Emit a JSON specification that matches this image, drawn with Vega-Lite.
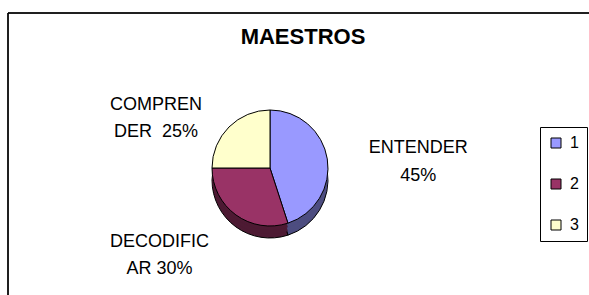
{
  "$schema": "https://vega.github.io/schema/vega-lite/v6.json",
  "width": 600,
  "height": 300,
  "autosize": {"type": "none"},
  "padding": {"left": 8, "top": 13, "right": 0, "bottom": 0},
  "background": "white",
  "config": {
    "view": {"stroke": "black", "strokeWidth": 1},
    "font": "Liberation Sans",
    "legend": {
      "orient": "none",
      "legendX": 532,
      "legendY": 114,
      "strokeColor": "black",
      "strokeWidth": 1,
      "fillColor": "white",
      "padding": 8,
      "rowPadding": 25,
      "symbolType": "square",
      "symbolSize": 100,
      "symbolStrokeColor": "black",
      "symbolStrokeWidth": 1,
      "labelFontSize": 16,
      "labelFont": "Liberation Sans",
      "labelColor": "black",
      "labelOffset": 6,
      "title": null
    }
  },
  "title": {
    "text": "MAESTROS",
    "fontSize": 22,
    "fontWeight": "bold",
    "font": "Liberation Sans",
    "color": "black",
    "anchor": "middle",
    "offset": -53,
    "baseline": "alphabetic",
    "dx": -5
  },
  "data": {
    "values": [
      {"cat": "1", "value": 45, "label": "ENTENDER\n45%"},
      {"cat": "2", "value": 30, "label": "DECODIFIC\nAR 30%"},
      {"cat": "3", "value": 25, "label": "COMPREN\nDER \u00a025%"}
    ]
  },
  "layer": [
    {
      "mark": {"type": "rect", "fill": null, "stroke": "black", "strokeWidth": 1},
      "encoding": {}
    },
    {
      "mark": {"type": "arc", "radius": 58, "x": 262, "y": 167, "stroke": "black", "strokeWidth": 1},
      "encoding": {
        "theta": {"field": "value", "type": "quantitative", "stack": true},
        "order": {"field": "cat", "type": "ordinal"},
        "color": {"field": "cat", "type": "nominal", "scale": {"domain": ["1", "2", "3"], "range": ["#4D4D80", "#4D1A33", "#80805F"]}, "legend": null}
      }
    },
    {
      "mark": {"type": "arc", "radius": 58, "x": 262, "y": 163},
      "encoding": {
        "theta": {"field": "value", "type": "quantitative", "stack": true},
        "order": {"field": "cat", "type": "ordinal"},
        "color": {"field": "cat", "type": "nominal", "scale": {"domain": ["1", "2", "3"], "range": ["#4D4D80", "#4D1A33", "#80805F"]}, "legend": null}
      }
    },
    {
      "mark": {"type": "arc", "radius": 58, "x": 262, "y": 159},
      "encoding": {
        "theta": {"field": "value", "type": "quantitative", "stack": true},
        "order": {"field": "cat", "type": "ordinal"},
        "color": {"field": "cat", "type": "nominal", "scale": {"domain": ["1", "2", "3"], "range": ["#4D4D80", "#4D1A33", "#80805F"]}, "legend": null}
      }
    },
    {
      "mark": {"type": "arc", "radius": 58, "x": 262, "y": 155, "stroke": "black", "strokeWidth": 1},
      "encoding": {
        "theta": {"field": "value", "type": "quantitative", "stack": true},
        "order": {"field": "cat", "type": "ordinal"},
        "color": {"field": "cat", "type": "nominal", "scale": {"domain": ["1", "2", "3"], "range": ["#9999FF", "#993366", "#FFFFCC"]}}
      }
    },
    {
      "mark": {"type": "text", "x": 262, "y": 155, "radius": 145, "dx": 5, "dy": 3, "align": "center", "baseline": "middle", "lineBreak": "\n", "lineHeight": 28, "fontSize": 18, "font": "Liberation Sans", "color": "black"},
      "encoding": {
        "theta": {"field": "value", "type": "quantitative", "stack": true},
        "order": {"field": "cat", "type": "ordinal"},
        "text": {"condition": {"test": "datum.cat === '1'", "field": "label"}, "value": ""}
      }
    },
    {
      "mark": {"type": "text", "x": 262, "y": 155, "radius": 140, "dx": -15, "dy": 36, "align": "center", "baseline": "middle", "lineBreak": "\n", "lineHeight": 27, "fontSize": 18, "font": "Liberation Sans", "color": "black"},
      "encoding": {
        "theta": {"field": "value", "type": "quantitative", "stack": true},
        "order": {"field": "cat", "type": "ordinal"},
        "text": {"condition": {"test": "datum.cat === '3'", "field": "label"}, "value": ""}
      }
    },
    {
      "mark": {"type": "text", "x": 262, "y": 155, "radius": 120, "dx": -40, "dy": -23, "align": "center", "baseline": "middle", "lineBreak": "\n", "lineHeight": 27, "fontSize": 18, "font": "Liberation Sans", "color": "black"},
      "encoding": {
        "theta": {"field": "value", "type": "quantitative", "stack": true},
        "order": {"field": "cat", "type": "ordinal"},
        "text": {"condition": {"test": "datum.cat === '2'", "field": "label"}, "value": ""}
      }
    }
  ],
  "resolve": {"scale": {"color": "independent", "theta": "shared"}}
}
